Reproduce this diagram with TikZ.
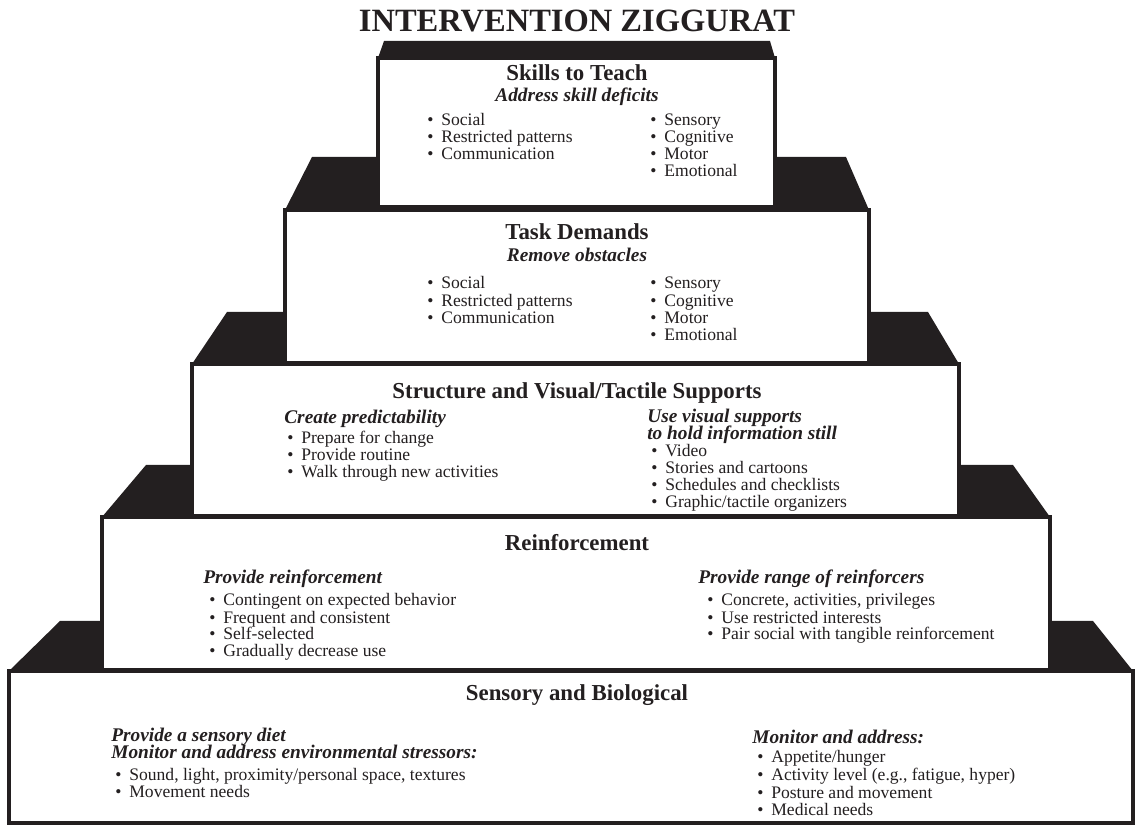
\documentclass[tikz,border=0pt]{standalone}
\usepackage{fontspec}
\setmainfont{Liberation Serif}
\definecolor{zigblack}{RGB}{35,31,32}
\tikzset{
  tierbox/.style={draw=zigblack, fill=white, line width=2.3pt},
  roof/.style={fill=zigblack},
  head/.style={anchor=base, inner sep=0pt, text=zigblack, font=\fontsize{13}{15}\selectfont\bfseries},
  sub/.style={anchor=base west, inner sep=0pt, text=zigblack, font=\fontsize{11}{13}\selectfont\bfseries\itshape},
  item/.style={anchor=base west, inner sep=0pt, text=zigblack, font=\fontsize{10}{12}\selectfont,
    execute at begin node={\llap{\textbullet\hspace{4.5pt}}}}
}
% #1 left, #2 top, #3 right, #4 bottom, #5 roof top, #6 roof left, #7 roof right
\newcommand\tier[7]{%
  \fill[roof] (#1,#2) -- (#6,#5) -- (#7,#5) -- (#3,#2) -- cycle;
  \draw[tierbox] (#1,#2) rectangle (#3,#4);}
% #1 name, #2 x, #3 first baseline, #4 line step, #5 lines
\newcommand\bullets[5]{%
  \foreach \t [count=\i] in {#5}
    \node[item] (#1-\i) at (#2, #3+#4*\i-#4) {\t};}

\begin{document}
\begin{tikzpicture}[x=0.02cm, y=-0.02cm]
  \useasboundingbox (0,0) rectangle (1137,827);

  \tier{  9}{671}{1133}{823}{621}{ 60}{1093}
  \tier{102}{517}{1050}{670}{465}{146}{1013}
  \tier{192}{364}{ 959}{516}{312}{227}{ 928}
  \tier{285}{210}{ 869}{363}{157}{312}{ 846}
  \tier{378}{ 58}{ 775}{207}{ 41}{384}{ 770}

  \node[anchor=base, inner sep=0pt, text=zigblack, font=\fontsize{18.5}{20}\selectfont\bfseries]
    (title) at (577,32) {INTERVENTION ZIGGURAT};

  \node[head]              (sk-head) at (577, 81) {Skills to Teach};
  \node[sub, anchor=base]  (sk-sub)  at (577,102) {Address skill deficits};
  \bullets{sk-l}{441}{126}{17}{Social, Restricted patterns, Communication}
  \bullets{sk-r}{664}{126}{17}{Sensory, Cognitive, Motor, Emotional}

  \node[head]              (td-head) at (577,240) {Task Demands};
  \node[sub, anchor=base]  (td-sub)  at (577,262) {Remove obstacles};
  \bullets{td-l}{441}{289}{17.3}{Social, Restricted patterns, Communication}
  \bullets{td-r}{664}{289}{17.3}{Sensory, Cognitive, Motor, Emotional}

  \node[head]  (st-head)  at (577,399) {Structure and Visual/Tactile Supports};
  \node[sub]   (st-sub-l) at (284,424) {Create predictability};
  \node[sub, text depth=0pt]   (st-sub-r) at (647,423) {Use visual supports};
  \node[sub, text height=6pt, text depth=0pt] (st-sub-s) at (647,440) {to hold information still};
  \bullets{st-l}{301}{444}{17}{Prepare for change, Provide routine, Walk through new activities}
  \bullets{st-r}{665}{457}{16.8}{Video, Stories and cartoons, Schedules and checklists, Graphic/tactile organizers}

  \node[head]  (rf-head)  at (577,551) {Reinforcement};
  \node[sub]   (rf-sub-l) at (203,584) {Provide reinforcement};
  \node[sub]   (rf-sub-r) at (698,584) {Provide range of reinforcers};
  \bullets{rf-l}{223}{606}{17}{Contingent on expected behavior, Frequent and consistent, Self-selected, Gradually decrease use}
  \bullets{rf-r}{721}{606}{17}{{Concrete, activities, privileges}, Use restricted interests, Pair social with tangible reinforcement}

  \node[head]  (sb-head)  at (577,701) {Sensory and Biological};
  \node[sub]   (sb-sub-l) at (111,742) {Provide a sensory diet};
  \node[sub]   (sb-sub-m) at (111,759) {Monitor and address environmental stressors:};
  \node[sub]   (sb-sub-r) at (752,744) {Monitor and address:};
  \bullets{sb-l}{129}{781}{16.5}{{Sound, light, proximity/personal space, textures}, Movement needs}
  \bullets{sb-r}{771}{763}{17.5}{Appetite/hunger, {Activity level (e.g., fatigue, hyper)}, Posture and movement, Medical needs}
\end{tikzpicture}
\end{document}
